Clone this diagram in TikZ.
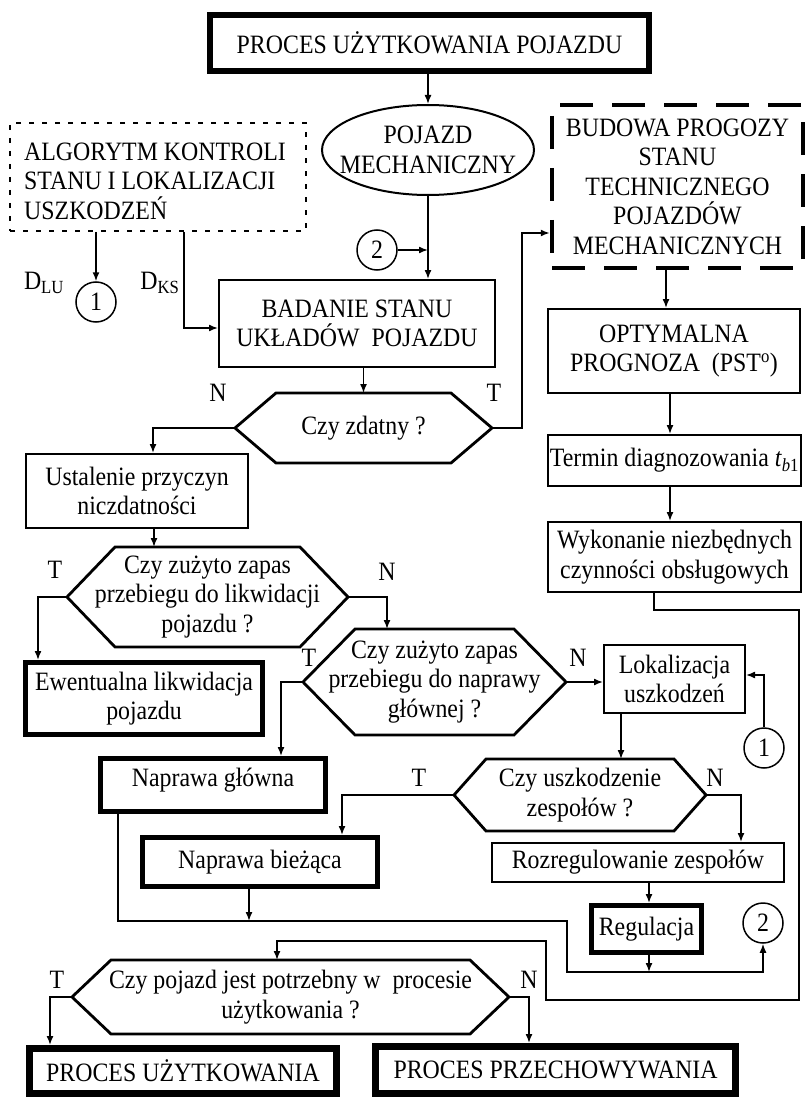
\documentclass[tikz,border=0pt]{standalone}
\usepackage{fontspec}
\setmainfont{Liberation Serif}[FakeStretch=0.9]
\usetikzlibrary{arrows.meta,shapes.geometric}
\newcommand\hexshape[7]{%
  \draw[hexline] ({#2-#4},#3) -- ({#2-#4+#6},{#3-#5}) -- ({#2+#4-#6},{#3-#5}) -- ({#2+#4},#3) -- ({#2+#4-#6},{#3+#5}) -- ({#2-#4+#6},{#3+#5}) -- cycle;
  \coordinate (#1-l) at ({#2-#4},#3);
  \coordinate (#1-r) at ({#2+#4},#3);
  \coordinate (#1-t) at (#2,{#3-#5});
  \coordinate (#1-b) at (#2,{#3+#5});
  \node[lbl, align=center] (#1) at (#2,#3) {#7};
}
\begin{document}
\begin{tikzpicture}[x=1pt,y=-1pt,
  font=\fontsize{26.5}{29.5}\selectfont,
  arr/.style={-{Latex[length=9pt,width=7pt]}, line width=1.5pt},
  thinbox/.style={draw, line width=2pt, rectangle, inner sep=0pt, align=center},
  thickbox/.style={draw, line width=5pt, rectangle, inner sep=0pt, align=center},
  hexline/.style={line width=2.8pt, line join=miter},
  lbl/.style={inner sep=0pt},
  conn/.style={draw, circle, line width=1.5pt, minimum size=40pt, inner sep=0pt},
]
\useasboundingbox (0,0) rectangle (808,1099);

% ---- nodes ----
\node[thickbox, line width=6pt, minimum width=439pt, minimum height=56pt] (top) at (429.5,43) {PROCES UŻYTKOWANIA POJAZDU};
\node[draw, ellipse, line width=2pt, minimum width=212pt, minimum height=90pt, inner sep=-22pt, align=center] (ell) at (428,150) {POJAZD\\MECHANICZNY};
\node[draw, line width=2pt, dash pattern=on 5pt off 8pt, minimum width=296pt, minimum height=108pt, inner sep=0pt] (alg) at (158,177) {};
\node[lbl, anchor=west, align=left] (algt) at (24,181) {ALGORYTM KONTROLI\\STANU I LOKALIZACJI\\USZKODZEŃ};
\node[draw, line width=4.5pt, dash pattern=on 33pt off 19pt, minimum width=251pt, minimum height=163pt, inner sep=0pt, align=center] (bud) at (677.5,186.5) {BUDOWA PROGOZY\\STANU\\TECHNICZNEGO\\POJAZDÓW\\MECHANICZNYCH};
\node[conn] (c2a) at (377,250) {2};
\node[conn] (c1a) at (96,302) {1};
\node[lbl] (dlu) at (44,283) {D\textsubscript{LU}};
\node[lbl] (dks) at (160,283) {D\textsubscript{KS}};
\node[thinbox, minimum width=276pt, minimum height=87pt] (bad) at (357,323.5) {BADANIE STANU\\UKŁADÓW\ \ POJAZDU};
\node[thinbox, minimum width=252pt, minimum height=84pt] (opt) at (674,351) {OPTYMALNA\\PROGNOZA\ \ (PST\textsuperscript{o})};
\node[thinbox, minimum width=253pt, minimum height=51pt] (term) at (674.5,460.5) {Termin diagnozowania \textit{t}\textsubscript{\textit{b}1}};
\node[thinbox, minimum width=253pt, minimum height=70pt] (wyk) at (674.5,557) {Wykonanie niezbędnych\\czynności obsługowych};
\node[thinbox, minimum width=222pt, minimum height=74pt] (ust) at (137,491) {Ustalenie przyczyn\\niczdatności};
\node[thickbox, minimum width=237pt, minimum height=72pt] (ewe) at (144,698.5) {Ewentualna likwidacja\\pojazdu};
\node[thinbox, minimum width=141pt, minimum height=68pt] (lok) at (674.5,679) {Lokalizacja\\uszkodzeń};
\node[thickbox, minimum width=225pt, minimum height=53pt, text depth=14pt, text height=16pt] (ng) at (213,785) {Naprawa główna};
\node[thickbox, minimum width=235pt, minimum height=49pt] (nb) at (260,862) {Naprawa bieżąca};
\node[thinbox, minimum width=292pt, minimum height=39pt] (roz) at (638,862.5) {Rozregulowanie zespołów};
\node[thickbox, minimum width=110pt, minimum height=47pt] (reg) at (646.5,929) {Regulacja};
\node[conn] (c1b) at (764,748) {1};
\node[conn] (c2b) at (763,923) {2};
\node[thickbox, line width=7pt, minimum width=307pt, minimum height=45pt] (pu) at (183,1071) {PROCES UŻYTKOWANIA};
\node[thickbox, line width=7pt, minimum width=360pt, minimum height=47pt] (pp) at (555.5,1070) {PROCES PRZECHOWYWANIA};

% ---- decisions ----
\hexshape{hA}{363.5}{428}{128.5}{35}{41}{Czy zdatny ?}
\hexshape{hB}{207.5}{597}{140.5}{50}{48}{Czy zużyto zapas\\przebiegu do likwidacji\\pojazdu ?}
\hexshape{hC}{434.5}{682}{131.5}{53}{52}{Czy zużyto zapas\\przebiegu do naprawy\\głównej ?}
\hexshape{hD}{580}{795}{126}{36}{32}{Czy uszkodzenie\\zespołów ?}
\hexshape{hE}{290.5}{997}{218.5}{37}{39}{Czy pojazd jest potrzebny w\ \ procesie\\użytkowania ?}

% ---- T / N labels ----
\node[lbl] (nA) at (218,393) {N};
\node[lbl] (tA) at (494,393) {T};
\node[lbl] (tB) at (55,570) {T};
\node[lbl] (nB) at (387,572) {N};
\node[lbl] (tC) at (309,658) {T};
\node[lbl] (nC) at (578,658) {N};
\node[lbl] (tD) at (419,778) {T};
\node[lbl] (nD) at (715,778) {N};
\node[lbl] (tE) at (57,980) {T};
\node[lbl] (nE) at (529,980) {N};

% ---- route coordinates ----
\coordinate (xks) at (184,328);
\coordinate (ua) at (153,0);
\coordinate (ra) at (522,233);
\coordinate (ob) at (666,0);
\coordinate (oc) at (670,0);
\coordinate (b1) at (654,610);
\coordinate (b2) at (799,1000);
\coordinate (b3) at (546,941);
\coordinate (b4) at (277,941);
\coordinate (ub) at (154,0);
\coordinate (el) at (38,0);
\coordinate (nx) at (387,0);
\coordinate (gx) at (281,0);
\coordinate (la) at (0,675);
\coordinate (lx) at (621,0);
\coordinate (bx) at (342,0);
\coordinate (rx) at (741,0);
\coordinate (gy) at (649,0);
\coordinate (a1) at (118,921);
\coordinate (a2) at (567,972);
\coordinate (nbx) at (249,921);
\coordinate (rgx) at (649,972);
\coordinate (px) at (50,0);
\coordinate (qx) at (529,0);

% ---- connectors ----
\draw[arr] (top.south -| ell.north) -- (ell.north);
\draw[arr] (ell.south) -- (ell.south |- bad.north);
\draw[arr] (c2a.east) -- (c2a.east -| ell.south);
\draw[arr] (c1a.north |- alg.south) -- (c1a.north);
\draw[arr] (xks |- alg.south) -- (xks) -- (xks -| bad.west);
\draw[arr] (hA-t |- bad.south) -- (hA-t);
\draw[arr] (hA-l) -| (ust.north -| ua);
\draw[arr] (hA-r) -| (ra) -- (ra -| bud.west);
\draw[arr] (bud.south -| ob) -- (opt.north -| ob);
\draw[arr] (opt.south -| oc) -- (term.north -| oc);
\draw[arr] (term.south -| oc) -- (wyk.north -| oc);
\draw[arr] (wyk.south -| b1) -- (b1) -- (b1 -| b2) -- (b2) -- (b2 -| b3) -- (b3) -- (b4) -- (b4 |- hE-t);
\draw[arr] (ust.south -| ub) -- (hB-t -| ub);
\draw[arr] (hB-l) -| (ewe.north -| el);
\draw[arr] (hB-r) -| (hC-t -| nx);
\draw[arr] (hC-l) -| (ng.north -| gx);
\draw[arr] (hC-r) -- (hC-r -| lok.west);
\draw[arr] (c1b.north) |- (lok.east |- la);
\draw[arr] (lok.south -| lx) -- (hD-t -| lx);
\draw[arr] (hD-l) -| (nb.north -| bx);
\draw[arr] (hD-r) -| (roz.north -| rx);
\draw[arr] (roz.south -| gy) -- (reg.north -| gy);
\draw[arr] (ng.south -| a1) -- (a1) -| (a2) -| (c2b.south);
\draw[arr] (nbx |- nb.south) -- (nbx);
\draw[arr] (rgx |- reg.south) -- (rgx);
\draw[arr] (hE-l) -| (pu.north -| px);
\draw[arr] (hE-r) -| (pp.north -| qx);
\end{tikzpicture}
\end{document}
